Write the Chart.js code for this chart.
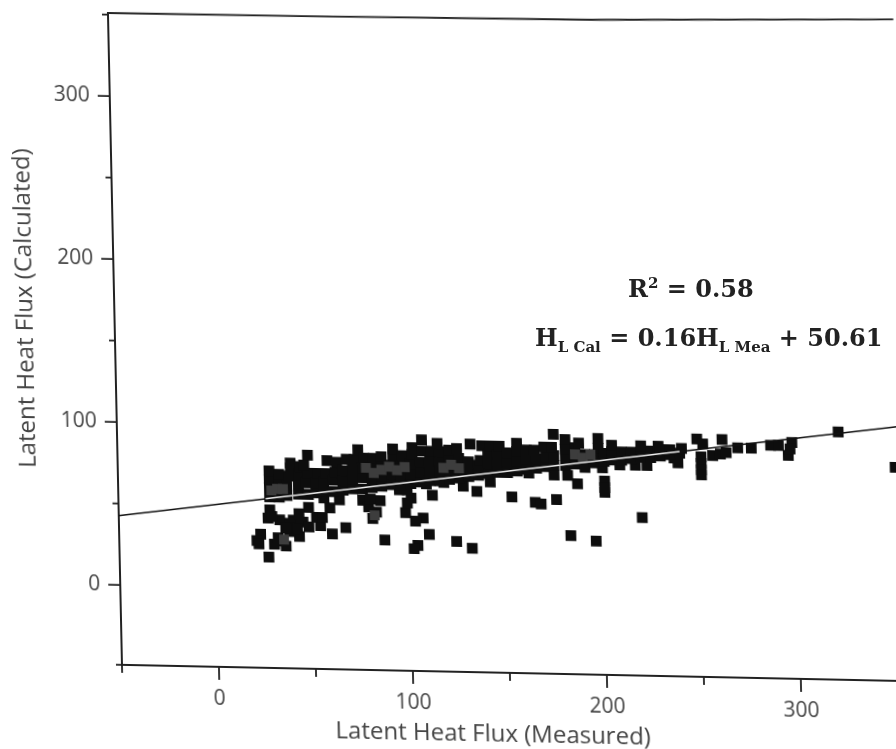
<!DOCTYPE html>
<html lang="en">
  <head>
    <meta charset="UTF-8" />
    <title>Latent Heat Flux</title>
    <script src="https://cdn.jsdelivr.net/npm/chart.js@4"></script>
    <style>
      html, body { margin: 0; padding: 0; background: #fff; overflow: hidden; }
      #page { position: relative; width: 896px; height: 749px; overflow: hidden; }
      /* the reference is a skewed scan, so the whole canvas gets sheared */
      #chart {
        position: absolute; left: 0; top: 0;
        transform-origin: 122px 665px;
        transform: matrix(1, 0.0207, 0.0215, 1, 0, 0);
        filter: blur(0.7px);
      }
      .note {
        position: absolute; color: #222; white-space: nowrap;
        font: bold 24px "DejaVu Serif", serif;
        filter: blur(0.6px);
      }
      .note sub, .note sup { font-size: 15px; }
    </style>
  </head>
  <body>
    <div id="page">
      <canvas id="chart" width="1000" height="749"></canvas>
      <div class="note" style="left: 628px; top: 274px">R<sup>2</sup> = 0.58</div>
      <div class="note" style="left: 535px; top: 323px">H<sub>L Cal</sub> = 0.16H<sub>L Mea</sub> + 50.61</div>
    </div>

    <script>
      const xTitle = "Latent Heat Flux (Measured)";
      const yTitle = "Latent Heat Flux (Calculated)";

      // y axis runs a hair off the round numbers in the scan, so its ticks are listed
      const yTicks = [-49, 0, 50, 100, 150, 200, 250, 300, 350];

      // fit line, read at both ends
      const lineX = [-50, 355];
      const lineY = [42.6, 107.4];
      // part of the fit line that shows white inside the dense band
      const innerLineX = [26, 240];
      const innerLineY = [54.8, 89];
      // top edge of the frame, it bends a little in the scan
      const frameX = [-50, 50, 200, 355];
      const frameY = [351, 351.5, 353, 357];

      // the dense band, read column by column
      const bandPoints = [
        [28,56],[28,62],[28,67],[28,72],
        [33,56],[33,62],[33,67],[33,70],
        [37,57],[37,63],[38,69],[39,74],[39,77],
        [43,58],[43,64],[43,70],[44,75],
        [48,58],[47,65],[48,71],[46,76],[48,82],
        [52,59],[52,65],[53,71],
        [56,60],[56,66],[57,71],[58,79],
        [61,60],[61,67],[62,72],[63,78],
        [66,61],[66,67],[66,73],[68,80],
        [71,62],[71,68],[71,74],[72,80],[74,86],
        [76,62],[76,69],[76,75],[77,81],
        [81,63],[81,69],[81,75],[82,81],
        [86,64],[86,70],[86,76],[86,82],
        [91,65],[91,71],[91,77],[92,83],[92,87],
        [96,65],[96,71],[96,77],[97,83],
        [101,66],[101,72],[101,78],[102,84],[102,88],
        [106,67],[106,73],[106,79],[107,86],[107,93],
        [111,68],[111,74],[111,80],[112,86],
        [116,68],[116,74],[116,80],[116,86],[115,91],
        [121,69],[121,75],[121,81],[121,87],
        [126,70],[126,76],[126,82],[125,88],
        [131,71],[131,77],[131,80],[132,91],
        [136,72],[136,78],[137,81],[138,90],
        [141,73],[141,79],[141,85],[142,90],
        [146,74],[146,80],[146,85],[147,90],
        [151,74],[151,80],[151,86],[156,92],
        [156,75],[156,81],[156,87],
        [161,76],[161,82],[161,88],
        [166,77],[166,83],[165,88],
        [171,78],[171,84],[170,90],
        [175,79],[175,85],[174,90],[175,98],
        [181,79],[181,85],[181,89],[181,95],
        [186,80],[186,85],[186,90],[188,93],
        [191,80],[191,86],[196,81],[196,86],
        [198,90],[198,96],[201,82],[201,87],
        [205,83],[205,88],[205,92],
        [210,83],[210,88],[215,84],[215,88],
        [220,85],[220,88],[220,92],[225,85],[225,89],
        [229,92],[230,86],[230,90],[235,87],[235,90],
        [240,88],[241,91]
      ];

      // darker overlap inside the band shows a bit grey in the scan
      const densePoints = [
        [29,60],[32,61],[35,61],[78,75],[82,72],[86,74],[90,76],
        [94,74],[98,76],[118,76],[122,78],[126,76],[186,86],[190,84],
        [194,86],[35,30],[82,46]
      ];

      // points under the line and the loose ones on the right
      const loosePoints = [
        [27,19],[23,33],[21,29],[22,27],[34,29],[30,27],[36,26],[32,31],
        [43,32],[60,34],[67,38],[54,39],[87,31],[104,28],[102,26],[110,35],
        [124,31],[132,27],[153,59],[112,59],[135,62],[107,45],[103,43],[98,48],
        [101,57],[99,54],[81,44],[76,55],[85,55],[79,51],[83,48],[80,56],
        [28,48],[27,43],[33,42],[40,42],[48,50],[52,44],[55,44],[38,40],
        [38,35],[59,50],[64,55],[56,56],[128,65],[142,68],[118,67],[109,66],
        [95,62],[99,62],[201,70],[201,66],[201,63],[200,78],[187,68],[182,73],
        [175,73],[162,74],[191,78],[209,80],[223,80],[217,80],[239,82],[237,85],
        [165,56],[168,55],[176,58],[220,48],[183,36],[196,33],
        [249,97],[252,94],[262,97],[251,86],[251,82],[251,78],[251,75],
        [257,87],[261,88],[264,89],[270,92],[277,92],[287,94],[291,94],
        [298,96],[296,88],[297,92],[322,103],[351,82],
        [29,44],[43,46],[45,41],[42,37],[48,38],[36,37]
      ];

      const asXY = (pts) => pts.map((p) => ({ x: p[0], y: p[1] }));
      const zip = (xs, ys) => xs.map((x, i) => ({ x: x, y: ys[i] }));

      // short ticks on the odd fifties, long ones on the hundreds
      const tickMarks = {
        id: "tickMarks",
        afterDraw(chart) {
          const ctx = chart.ctx;
          const sx = chart.scales.x;
          const sy = chart.scales.y;
          ctx.save();
          ctx.strokeStyle = "#222";
          ctx.lineWidth = 1.8;
          sx.ticks.forEach((t) => {
            if (t.value % 50 !== 0) return;
            const p = sx.getPixelForValue(t.value);
            const len = t.value % 100 === 0 ? 13 : 8;
            ctx.beginPath();
            ctx.moveTo(p, sx.top);
            ctx.lineTo(p, sx.top + len);
            ctx.stroke();
          });
          sy.ticks.forEach((t) => {
            const p = sy.getPixelForValue(t.value);
            const len = t.value % 100 === 0 ? 12 : 6;
            ctx.beginPath();
            ctx.moveTo(sy.right, p);
            ctx.lineTo(sy.right - len, p);
            ctx.stroke();
          });
          // axis titles sit off centre in the reference
          ctx.fillStyle = "#444";
          ctx.font = '24px "Open Sans"';
          ctx.textAlign = "center";
          ctx.textBaseline = "middle";
          ctx.fillText(xTitle, 492, 727);
          ctx.translate(33, 310);
          ctx.rotate(-Math.PI / 2);
          ctx.fillText(yTitle, 0, 0);
          ctx.restore();
        },
      };

      let chart = new Chart(document.getElementById("chart").getContext("2d"), {
        type: "scatter",
        data: {
          datasets: [
            {
              label: "Fit inner",
              type: "line",
              data: zip(innerLineX, innerLineY),
              borderColor: "#eeeeee",
              borderWidth: 1.6,
              pointRadius: 0,
              order: 0,
            },
            {
              label: "Fit",
              type: "line",
              data: zip(lineX, lineY),
              borderColor: "#111",
              borderWidth: 1.5,
              pointRadius: 0,
              order: 1,
            },
            {
              label: "Frame",
              type: "line",
              data: zip(frameX, frameY),
              borderColor: "#222",
              borderWidth: 1.8,
              pointRadius: 0,
              clip: false,
              order: 1,
            },
            {
              label: "Dense",
              data: asXY(densePoints),
              pointStyle: "rect",
              pointRadius: 7,
              backgroundColor: "#3d3d3d",
              borderWidth: 0,
              order: 2,
            },
            {
              label: "Band",
              data: asXY(bandPoints),
              pointStyle: "rect",
              pointRadius: 7.6,
              backgroundColor: "#0d0d0d",
              borderWidth: 0,
              order: 3,
            },
            {
              label: "Loose",
              data: asXY(loosePoints),
              pointStyle: "rect",
              pointRadius: 7.6,
              backgroundColor: "#0d0d0d",
              borderWidth: 0,
              order: 3,
            },
          ],
        },
        options: {
          responsive: false,
          animation: false,
          layout: { padding: { top: 13, right: 82.6, left: 0, bottom: 0 } },
          plugins: { legend: { display: false }, tooltip: { enabled: false } },
          scales: {
            x: {
              type: "linear",
              min: -50,
              max: 360,
              afterFit: (s) => { s.height = 84; s.paddingLeft = 0; s.paddingRight = 0; },
              grid: { display: false, drawTicks: false },
              border: { color: "#222", width: 2 },
              ticks: {
                stepSize: 50,
                autoSkip: false,
                maxRotation: 0,
                padding: 19,
                color: "#444",
                font: { family: "Open Sans", size: 21 },
                callback: (v) => (v % 100 === 0 ? v : ""),
              },
            },
            y: {
              type: "linear",
              min: -49,
              max: 351,
              afterBuildTicks: (s) => { s.ticks = yTicks.map((v) => ({ value: v })); },
              afterFit: (s) => { s.width = 122; s.paddingTop = 0; s.paddingBottom = 0; },
              grid: { display: false, drawTicks: false },
              border: { color: "#222", width: 2 },
              ticks: {
                autoSkip: false,
                padding: 20,
                color: "#444",
                font: { family: "Open Sans", size: 21 },
                callback: (v) => (v % 100 === 0 ? v : ""),
              },
            },
          },
        },
        plugins: [tickMarks],
      });
    </script>
  </body>
</html>
